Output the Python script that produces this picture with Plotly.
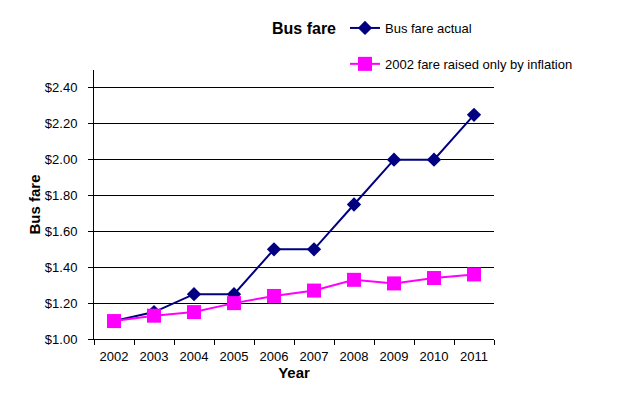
import plotly.graph_objects as go

years = ["2002", "2003", "2004", "2005", "2006", "2007", "2008", "2009", "2010", "2011"]
fare_actual = [1.10, 1.15, 1.25, 1.25, 1.50, 1.50, 1.75, 2.00, 2.00, 2.25]
fare_inflation = [1.10, 1.13, 1.15, 1.20, 1.24, 1.27, 1.33, 1.31, 1.34, 1.36]

W, H = 619, 399
FONT = "Liberation Sans, Arial, sans-serif"

fig = go.Figure()
fig.add_trace(go.Scatter(
    x=years, y=fare_actual, name="Bus fare actual",
    mode="lines+markers",
    line=dict(color="#000080", width=2),
    marker=dict(symbol="diamond", size=11, color="#000080"),
    legendgroup="a", legendrank=1,
))
fig.add_trace(go.Scatter(
    x=years, y=fare_inflation, name="2002 fare raised only by inflation",
    mode="lines+markers",
    line=dict(color="#FF00FF", width=2),
    marker=dict(symbol="square", size=14, color="#FF00FF"),
    legendgroup="b", legendrank=2,
))

fig.update_layout(
    width=W, height=H,
    margin=dict(l=94, r=125, t=70, b=60, autoexpand=False),
    paper_bgcolor="white", plot_bgcolor="white",
    font=dict(family=FONT, size=13, color="black"),
    showlegend=True,
    title=dict(text="<b>Bus fare</b>", font=dict(size=16, family=FONT, color="black"),
               x=304 / W, xanchor="center", xref="container",
               y=1 - 28 / H, yanchor="middle", yref="container"),
    legend=dict(x=345 / W, xanchor="left", xref="container",
                y=1 - 13 / H, yanchor="top", yref="container",
                tracegroupgap=16, traceorder="grouped",
                font=dict(size=13, family=FONT), bgcolor="rgba(0,0,0,0)"),
    xaxis=dict(
        type="category", range=[-0.5, 9.5],
        showline=True, linecolor="black", linewidth=1,
        ticks="outside", tickson="boundaries", ticklen=5, tickcolor="black",
        showgrid=False, zeroline=False, tickangle=0, ticklabelstandoff=5,
        tickfont=dict(size=13, family=FONT),
        title=dict(text="<b>Year</b>", font=dict(size=15, family=FONT), standoff=4),
    ),
    yaxis=dict(
        range=[1.0, 2.5], tick0=1.0, dtick=0.2,
        tickprefix="$", tickformat=".2f",
        showline=True, linecolor="black", linewidth=1,
        ticks="outside", ticklen=5, tickcolor="black", ticklabelstandoff=8,
        showgrid=True, gridcolor="black", gridwidth=1, zeroline=False,
        tickfont=dict(size=13, family=FONT),
        title=dict(text="<b>Bus fare</b>", font=dict(size=15, family=FONT), standoff=0),
    ),
)

fig.write_html("out.html", config={"displayModeBar": False},
               post_script="document.body.style.margin='0';")
